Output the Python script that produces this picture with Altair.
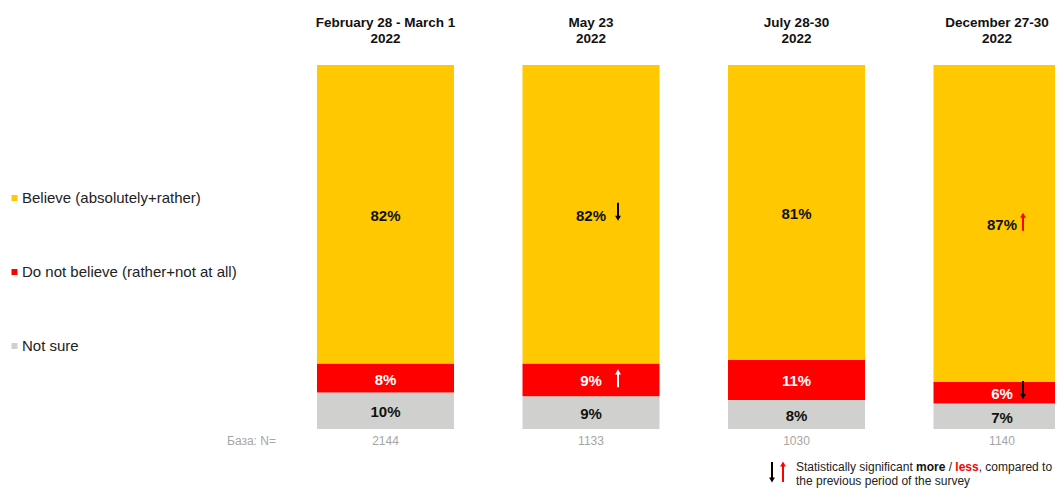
import altair as alt
import pandas as pd

periods = ["February 28 - March 1", "May 23", "July 28-30", "December 27-30"]
years = ["2022", "2022", "2022", "2022"]
categories = ["Believe (absolutely+rather)", "Do not believe (rather+not at all)", "Not sure"]
believe = [82, 82, 81, 87]
not_believe = [8, 9, 11, 6]
not_sure = [10, 9, 8, 7]
base_n = ["2144", "1133", "1030", "1140"]
colors = ["#FFC800", "#FF0000", "#D0D1CE"]

# statistically significant changes (arrows)
sig_period = ["May 23", "May 23", "December 27-30", "December 27-30"]
sig_category = [categories[0], categories[1], categories[0], categories[1]]
sig_direction = ["down", "up", "up", "down"]
sig_color = ["#000000", "#FFFFFF", "#FF0000", "#000000"]

FONT = "Liberation Sans"

rows = []
for i, p in enumerate(periods):
    base = 0
    for cat, vals in ((categories[2], not_sure), (categories[1], not_believe), (categories[0], believe)):
        v = vals[i]
        rows.append(dict(period=p, year=years[i], category=cat, value=v, y0=base,
                         y1=base + v, mid=base + v / 2, label=f"{v}%", n=base_n[i]))
        base += v
df = pd.DataFrame(rows)
heads = pd.DataFrame({"period": periods, "year": years, "n": base_n})

xenc = alt.X("period:N", sort=periods,
             scale=alt.Scale(domain=periods, range=[274.75, 1096.75],
                             paddingInner=1 / 3, paddingOuter=1 / 6),
             axis=None)
yscale = alt.Scale(domain=[0, 100], range=[421, 57], nice=False, zero=False)

bars = alt.Chart(df).mark_bar(clip=True).encode(
    x=xenc,
    y=alt.Y("y1:Q", scale=yscale, axis=None),
    y2="y0:Q",
    color=alt.Color("category:N",
                    scale=alt.Scale(domain=categories, range=colors),
                    legend=alt.Legend(orient="none", legendX=-1, legendY=182.5,
                                      title=None, symbolType="square", symbolSize=36,
                                      symbolStrokeWidth=0, labelFontSize=15,
                                      labelFont=FONT, labelColor="#222222",
                                      labelOffset=0, rowPadding=58, padding=0,
                                      labelLimit=400)),
)

labels = alt.Chart(df).mark_text(font=FONT, fontSize=15, fontWeight="bold",
                                 baseline="middle", align="center", dy=1.5).encode(
    x=alt.X("period:N", sort=periods),
    y=alt.Y("mid:Q"),
    text="label:N",
    color=alt.condition(alt.datum.category == categories[1],
                        alt.value("#FFFFFF"), alt.value("#111111")),
)

head_layers = []
for sel, dx in ((periods[:3], 0), (periods[3:], -5)):
    hsub = heads[heads.period.isin(sel)]
    head_layers.append(alt.Chart(hsub).mark_text(
        font=FONT, fontSize=13.5, fontWeight="bold", baseline="middle",
        color="#111111", dx=dx).encode(
        x=alt.X("period:N", sort=periods), y=alt.value(14.5), text="period:N"))
    head_layers.append(alt.Chart(hsub).mark_text(
        font=FONT, fontSize=13.5, fontWeight="bold", baseline="middle",
        color="#111111", dx=dx).encode(
        x=alt.X("period:N", sort=periods), y=alt.value(30.5), text="year:N"))

ntext = alt.Chart(heads).mark_text(font=FONT, fontSize=12, baseline="middle",
                                   color="#A6A6A6").encode(
    x=alt.X("period:N", sort=periods), y=alt.value(433), text="n:N")
nlabel = alt.Chart(pd.DataFrame({"t": ["База: N="]})).mark_text(
    font=FONT, fontSize=12, baseline="middle", align="left", color="#A6A6A6").encode(
    x=alt.value(219), y=alt.value(433), text="t:N")

arrow_dx = {"May 23": 27, "December 27-30": 21}
arrow_layers = []
for p, c, d, col in zip(sig_period, sig_category, sig_direction, sig_color):
    sub = df[(df.period == p) & (df.category == c)]
    dx = arrow_dx[p]
    if d == "down":
        r_off, r2_off, t_off, shape = -11.5, 3, 4, "triangle-down"
    else:
        r_off, r2_off, t_off, shape = 7.5, -7, -8, "triangle-up"
    arrow_layers.append(alt.Chart(sub).mark_rule(
        strokeWidth=2, color=col, xOffset=dx, yOffset=r_off, y2Offset=r2_off).encode(
        x=alt.X("period:N", sort=periods), y="mid:Q", y2="mid:Q"))
    arrow_layers.append(alt.Chart(sub).mark_point(
        shape=shape, filled=True, size=34, opacity=1, color=col, strokeWidth=0,
        xOffset=dx, yOffset=t_off).encode(
        x=alt.X("period:N", sort=periods), y="mid:Q"))

# footer key
one = pd.DataFrame({"k": [0]})
f_down_rule = alt.Chart(one).mark_rule(strokeWidth=2, color="#000000").encode(
    x=alt.value(764), y=alt.value(454), y2=alt.value(470))
f_down_tip = alt.Chart(one).mark_point(shape="triangle-down", filled=True, size=34,
                                       opacity=1, color="#000000", strokeWidth=0).encode(
    x=alt.value(764), y=alt.value(472))
f_up_rule = alt.Chart(one).mark_rule(strokeWidth=2, color="#FF0000").encode(
    x=alt.value(775), y=alt.value(458), y2=alt.value(474))
f_up_tip = alt.Chart(one).mark_point(shape="triangle-up", filled=True, size=34,
                                     opacity=1, color="#FF0000", strokeWidth=0).encode(
    x=alt.value(775), y=alt.value(456))

footer_parts = [
    ("Statistically significant", 788, 458.5, "normal", "#222222"),
    ("more", 908, 458.5, "bold", "#111111"),
    ("/", 940.7, 458.5, "normal", "#222222"),
    ("less", 947.3, 458.5, "bold", "#FF0000"),
    (", compared to", 970.7, 458.5, "normal", "#222222"),
    ("the previous period of the survey", 788, 473, "normal", "#222222"),
]
footer_layers = []
for t, xx, yy, fw, col in footer_parts:
    footer_layers.append(alt.Chart(pd.DataFrame({"t": [t]})).mark_text(
        font=FONT, fontSize=12, fontWeight=fw, align="left", baseline="middle",
        color=col).encode(x=alt.value(xx), y=alt.value(yy), text="t:N"))

chart = alt.layer(
    bars, labels, *head_layers, ntext, nlabel, *arrow_layers,
    f_down_rule, f_down_tip, f_up_rule, f_up_tip, *footer_layers
).properties(
    width=1047, height=481,
    autosize=alt.AutoSizeParams(type="none"), padding=0,
).configure(font=FONT).configure_view(stroke=None)

chart.save("out.html", embed_options={"renderer": "svg", "actions": False})
